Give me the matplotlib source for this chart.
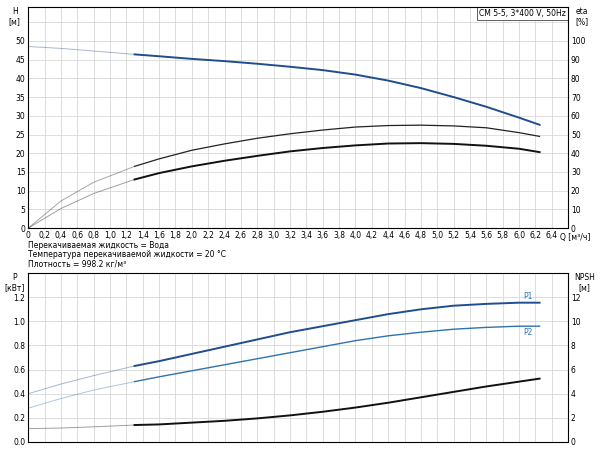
import matplotlib
matplotlib.use("Agg")
import matplotlib.pyplot as plt
import numpy as np

Q = [0, 0.4, 0.8, 1.3, 1.6, 2.0, 2.4, 2.8, 3.2, 3.6, 4.0, 4.4, 4.8, 5.2, 5.6, 6.0, 6.25]
H = [48.5, 48.0, 47.3, 46.4, 45.9, 45.2, 44.6, 43.9, 43.1, 42.2, 41.0, 39.4, 37.4, 35.0, 32.4, 29.5, 27.6]
eta1 = [0, 14.5, 24.5, 33, 37, 41.6, 45, 48, 50.4, 52.4, 54, 54.8, 55, 54.6, 53.6, 51, 49]
eta2 = [0, 10.5, 18.5, 26, 29.4, 33, 36, 38.6, 41, 42.8, 44.2, 45.2, 45.4, 45, 44, 42.4, 40.6]
P1 = [0.40, 0.48, 0.55, 0.63, 0.67, 0.73, 0.79, 0.85, 0.91, 0.96, 1.01, 1.06, 1.10, 1.13, 1.145, 1.155, 1.155]
P2 = [0.28, 0.36, 0.43, 0.50, 0.54, 0.59, 0.64, 0.69, 0.74, 0.79, 0.84, 0.88, 0.91, 0.935, 0.95, 0.96, 0.96]
NPSH = [1.1, 1.15, 1.25, 1.4, 1.45, 1.6, 1.75, 1.95, 2.2, 2.5, 2.85, 3.25, 3.7, 4.15, 4.6, 5.0, 5.25]
xticks = [round(0.2 * i, 1) for i in range(34)]

fs = 5.5
fig = plt.figure(figsize=(6, 4.5), dpi=100)
ax1 = fig.add_axes([0.047, 0.493, 0.9, 0.491])
ax3 = fig.add_axes([0.047, 0.018, 0.9, 0.375])

def split(ax, x, y, color, lw):
    x = np.array(x); y = np.array(y)
    m = x <= 1.3
    ax.plot(x[m], y[m], color=color, lw=0.7, alpha=0.4)
    k = x >= 1.3
    ax.plot(x[k], y[k], color=color, lw=lw)

for ax in (ax1, ax3):
    ax.set_xlim(0, 6.6)
    ax.set_xticks(xticks[:34])
    ax.grid(True, color="#d8d8d8", lw=0.6)
    ax.tick_params(labelsize=fs, length=0, pad=2)
    for s in ax.spines.values():
        s.set_color("#444")
        s.set_linewidth(0.7)

def qlab(v):
    if v == 0:
        return "0"
    if v > 6.45:
        return ""
    return ("%.1f" % v).replace(".", ",")

ax1.set_ylim(0, 59)
ax1.set_yticks(range(0, 60, 5))
ax1.set_yticklabels([str(v) if v <= 50 else "" for v in range(0, 60, 5)])
ax1.set_xticklabels([qlab(v) for v in xticks[:34]])
ax1e = ax1.twinx()
ax1e.set_ylim(0, 118)
ax1e.set_yticks(range(0, 101, 10))
ax1e.tick_params(labelsize=fs, length=0, pad=2)
split(ax1, Q, H, "#1f4e8c", 1.4)
split(ax1e, Q, eta1, "#222", 0.9)
split(ax1e, Q, eta2, "#111", 1.4)
ax1.text(6.5, -1.4, "Q [м³/ч]", fontsize=fs, va="top", ha="left")
ax1.text(-0.025, 1.0, "H\n[м]", transform=ax1.transAxes, fontsize=fs, ha="center", va="top")
ax1.text(1.025, 1.0, "eta\n[%]", transform=ax1.transAxes, fontsize=fs, ha="center", va="top")
ax1.text(0.995, 0.993, "CM 5-5, 3*400 V, 50Hz", transform=ax1.transAxes, fontsize=fs,
         ha="right", va="top", bbox=dict(fc="white", ec="#444", lw=0.6, pad=1.5))

fig.text(0.047, 0.455, "Перекачиваемая жидкость = Вода", fontsize=fs, va="center")
fig.text(0.047, 0.434, "Температура перекачиваемой жидкости = 20 °C", fontsize=fs, va="center")
fig.text(0.047, 0.413, "Плотность = 998.2 кг/м³", fontsize=fs, va="center")

ax3.set_ylim(0, 1.4)
ax3.set_yticks([0, 0.2, 0.4, 0.6, 0.8, 1.0, 1.2])
ax3.set_yticklabels(["0.0", "0.2", "0.4", "0.6", "0.8", "1.0", "1.2"])
ax3.set_xticklabels([])
ax3n = ax3.twinx()
ax3n.set_ylim(0, 14)
ax3n.set_yticks(range(0, 13, 2))
ax3n.tick_params(labelsize=fs, length=0, pad=2)
split(ax3, Q, P1, "#1f4e8c", 1.4)
split(ax3, Q, P2, "#2e73b0", 1.0)
split(ax3n, Q, NPSH, "#111", 1.4)
ax3.text(6.05, 1.185, "P1", color="#2e73b0", fontsize=fs)
ax3.text(6.05, 0.89, "P2", color="#2e73b0", fontsize=fs)
ax3.text(-0.025, 1.0, "P\n[кВт]", transform=ax3.transAxes, fontsize=fs, ha="center", va="top")
ax3.text(1.03, 1.0, "NPSH\n[м]", transform=ax3.transAxes, fontsize=fs, ha="center", va="top")

fig.savefig("out.png", dpi=100)
